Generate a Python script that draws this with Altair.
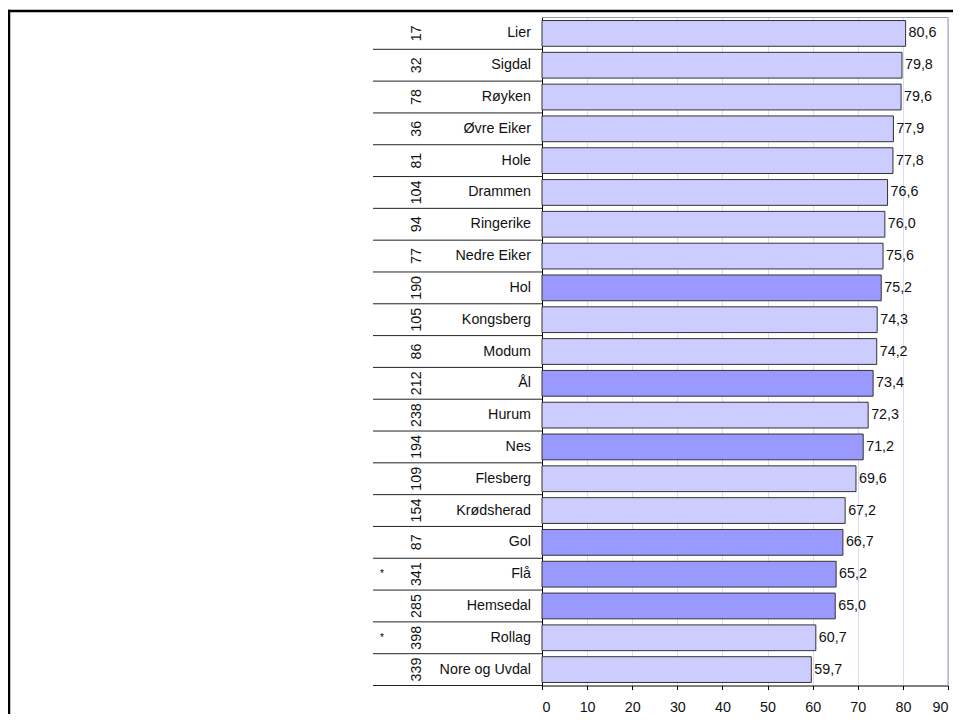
import altair as alt
import pandas as pd

names = ["Lier", "Sigdal", "Røyken", "Øvre Eiker", "Hole", "Drammen", "Ringerike",
         "Nedre Eiker", "Hol", "Kongsberg", "Modum", "Ål", "Hurum", "Nes", "Flesberg",
         "Krødsherad", "Gol", "Flå", "Hemsedal", "Rollag", "Nore og Uvdal"]
counts = [17, 32, 78, 36, 81, 104, 94, 77, 190, 105, 86, 212, 238, 194, 109, 154, 87,
          341, 285, 398, 339]
values = [80.6, 79.8, 79.6, 77.9, 77.8, 76.6, 76.0, 75.6, 75.2, 74.3, 74.2, 73.4, 72.3,
          71.2, 69.6, 67.2, 66.7, 65.2, 65.0, 60.7, 59.7]
kinds = ["light", "light", "light", "light", "light", "light", "light", "light", "dark",
         "light", "light", "dark", "light", "dark", "light", "light", "dark", "dark",
         "dark", "light", "light"]
stars = ["", "", "", "", "", "", "", "", "", "", "", "", "", "", "", "", "", "*", "", "*", ""]
x_ticks = [0, 10, 20, 30, 40, 50, 60, 70, 80, 90]

df = pd.DataFrame({"name": names, "count": counts, "value": values, "kind": kinds, "star": stars})
df["label"] = df["value"].map(lambda v: f"{v:.1f}".replace(".", ","))
df["count_s"] = df["count"].astype(str)

FONT = "Liberation Sans"
FS = 14.3
W, H = 406, 668

yaxis = alt.Axis(labels=False, ticks=False, title=None, grid=False, domainColor="black", domainWidth=1)
yscale = alt.Scale(paddingInner=0, paddingOuter=0)


def Y(**kw):
    return alt.Y("name:N", sort=names, scale=yscale, axis=yaxis, **kw)


xaxis = alt.Axis(values=x_ticks, title=None, grid=True, gridColor="#DCDCF8", gridWidth=1,
                 domainColor="black", tickColor="black", tickSize=4, labelPadding=10.5,
                 labelFont=FONT, labelFontSize=FS, labelColor="#111111")
X = alt.X("value:Q", scale=alt.Scale(domain=[0, 90], nice=False), axis=xaxis)

base = alt.Chart(df)

bars = base.mark_bar(height={"band": 0.81}, stroke="#333333", strokeWidth=1).encode(
    x=X, y=Y(),
    color=alt.Color("kind:N", scale=alt.Scale(domain=["light", "dark"], range=["#CCCCFF", "#9999FF"]), legend=None),
)

vlabels = base.mark_text(align="left", baseline="middle", dx=3, font=FONT, fontSize=FS, color="#111111").encode(
    x=X, y=Y(), text="label:N")

nlabels = base.mark_text(align="right", baseline="middle", font=FONT, fontSize=FS, color="#111111").encode(
    x=alt.value(-11), y=Y(), text="name:N")

clabels = base.mark_text(angle=270, align="center", baseline="middle", font=FONT, fontSize=FS, color="#111111").encode(
    x=alt.value(-125.5), y=Y(), text="count_s:N")

slabels = base.mark_text(align="center", baseline="middle", font=FONT, fontSize=10, color="black").encode(
    x=alt.value(-160), y=Y(), text="star:N")

seps = base.mark_rule(color="#222222", strokeWidth=1).encode(
    x=alt.value(-169), x2=alt.value(0), y=Y(bandPosition=1))

one = pd.DataFrame({"a": [0]})
top_border = alt.Chart(one).mark_rule(color="#9A9AAE", strokeWidth=1).encode(
    x=alt.value(0), x2=alt.value(W), y=alt.value(0))
right_border = alt.Chart(one).mark_rule(color="#9A9AAE", strokeWidth=1).encode(
    x=alt.value(W), y=alt.value(0), y2=alt.value(H))
frame_top = alt.Chart(one).mark_rule(color="black", strokeWidth=2.5).encode(
    x=alt.value(-540), x2=alt.value(420), y=alt.value(-6.5))
frame_left = alt.Chart(one).mark_rule(color="black", strokeWidth=2.5).encode(
    x=alt.value(-533), y=alt.value(-7.75), y2=alt.value(720))

chart = alt.layer(bars, vlabels, nlabels, clabels, slabels, seps, top_border, right_border,
                  frame_top, frame_left).properties(
    width=W, height=H,
    autosize=alt.AutoSizeParams(type="none"),
    padding={"left": 534, "top": 9.5, "right": 5, "bottom": 28.5},
).configure_view(stroke=None)

chart.save("out.html", embed_options={"renderer": "svg", "actions": False})
